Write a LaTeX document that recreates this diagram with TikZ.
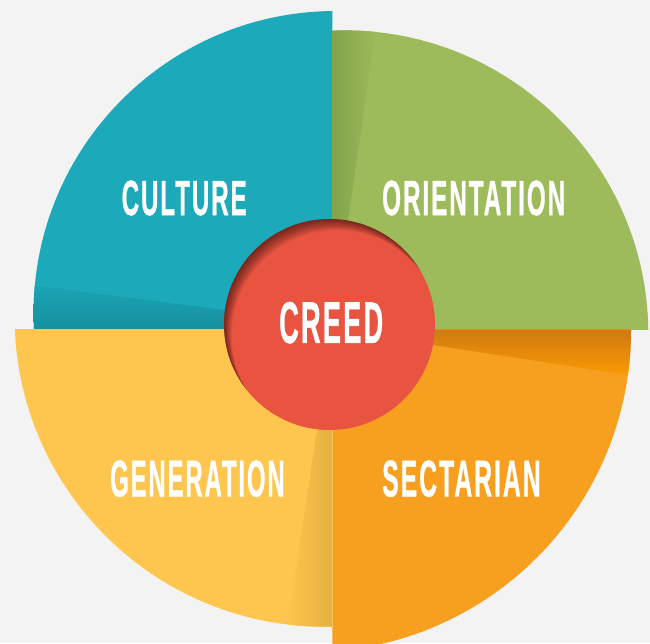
\documentclass[tikz,border=0pt]{standalone}
\usepackage{fontspec}
\usepackage{graphicx}
\newfontfamily\lblfont{Liberation Sans}[FakeBold=1,LetterSpace=8]
\definecolor{bgc}{HTML}{F3F3F3}
\definecolor{tealc}{HTML}{1CA9BA}
\definecolor{teald}{HTML}{137F8D}
\definecolor{greenc}{HTML}{9DBB5A}
\definecolor{greend}{HTML}{84A449}
\definecolor{orangec}{HTML}{F79F1F}
\definecolor{oranged}{HTML}{CF7A12}
\definecolor{orangeb}{HTML}{FE9C02}
\definecolor{yellowc}{HTML}{FFC64F}
\definecolor{yellowd}{HTML}{E6B03F}
\definecolor{redc}{HTML}{E95441}
\tikzset{lbl/.style={inner sep=0pt, text=white}}
\begin{document}
\begin{tikzpicture}[x=1pt,y=-1pt]
\useasboundingbox (0,0) rectangle (650,643);
\fill[bgc] (0,0) rectangle (650,643);
% teal quadrant
\begin{scope}
\clip (0,0) rectangle (332.3,329.5);
\fill[tealc] (335.8,313.2) circle (302.2);
\clip (335.8,313.2) circle (302.2);
\shade[top color=tealc!92!teald, bottom color=tealc!40!teald] (0,281) -- (332.3,324) -- (332.3,329.5) -- (0,329.5) -- cycle;
\end{scope}
% green quadrant
\begin{scope}
\clip (332.3,0) rectangle (650,329.5);
\fill[greenc] (344.6,334.1) circle (303.7);
\clip (344.6,334.1) circle (303.7);
\shade[left color=greend, right color=greenc] (332.3,329.5) -- (332.3,0) -- (380,0) -- cycle;
\end{scope}
% orange quadrant
\begin{scope}
\clip (332.3,329.5) rectangle (650,643);
\fill[orangec] (309,330.1) circle (322);
\clip (309,330.1) circle (322);
\shade[top color=oranged, bottom color=orangeb] (332.3,329.5) -- (650,329.5) -- (650,378.4) -- cycle;
\end{scope}
% yellow quadrant
\begin{scope}
\clip (0,329.5) rectangle (332.3,643);
\fill[yellowc] (324.9,316.4) circle (310.3);
\clip (324.9,316.4) circle (310.3);
\shade[left color=yellowc, right color=yellowd] (332.3,329.5) -- (332.3,643) -- (284.5,643) -- cycle;
\end{scope}
% hub
\node[circle, fill=redc, minimum size=211pt, inner sep=0pt] (hub) at (329.5,324.5) {};
\begin{scope}
\clip (329.5,324.5) circle (105.5);
\foreach \k in {1,...,14} {
  \fill[black, opacity=0.045, even odd rule] (329.5,324.5) circle (107) ({329.5+0.55*\k},{324.5+0.8*\k}) circle (105.5);
}
\end{scope}
% labels
\node[lbl, anchor=north west] (creed) at (279,301.7) {\resizebox{104pt}{41pt}{\lblfont\bfseries CREED}};
\node[lbl, anchor=north west] (culture) at (121.5,180.3) {\resizebox{125pt}{34.5pt}{\lblfont\bfseries CULTURE}};
\node[lbl, anchor=north west] (orientation) at (382,180.3) {\resizebox{183pt}{34.5pt}{\lblfont\bfseries ORIENTATION}};
\node[lbl, anchor=north west] (generation) at (110,460.2) {\resizebox{174.5pt}{36pt}{\lblfont\bfseries GENERATION}};
\node[lbl, anchor=north west] (sectarian) at (382,460.2) {\resizebox{158.5pt}{36pt}{\lblfont\bfseries SECTARIAN}};
\end{tikzpicture}
\end{document}
